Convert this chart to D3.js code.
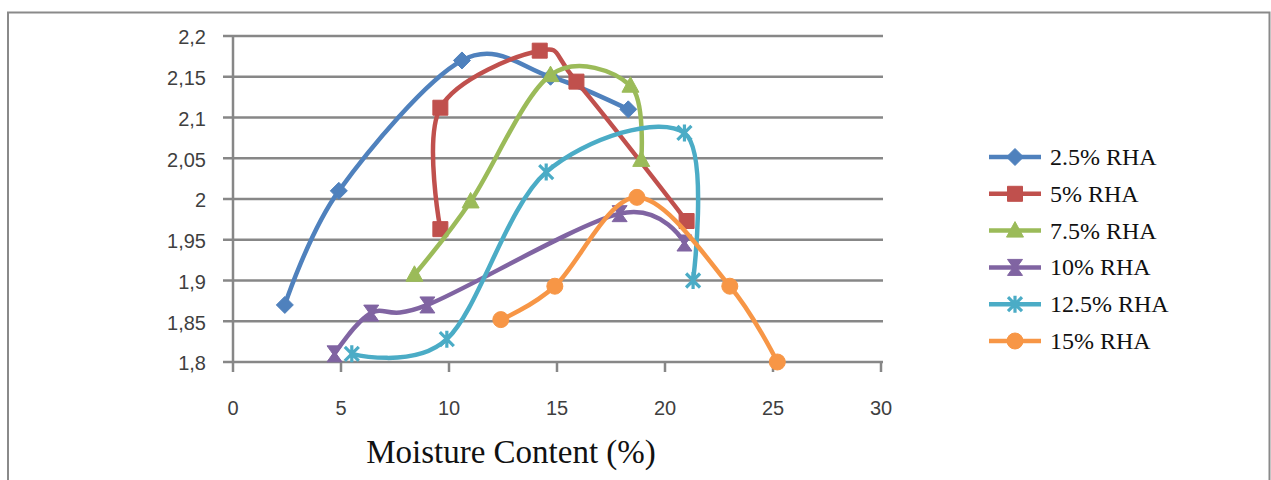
<!DOCTYPE html>
<html>
<head>
<meta charset="utf-8">
<script src="https://cdn.jsdelivr.net/npm/d3@7"></script>
<style>
  html, body { margin: 0; padding: 0; background: #fff; }
  #chart { width: 1271px; height: 480px; }
</style>
</head>
<body>
<div id="chart"></div>
<script>
// series names (legend order)
const seriesNames = ['2.5% RHA', '5% RHA', '7.5% RHA', '10% RHA', '12.5% RHA', '15% RHA'];

// moisture content (%) and dry density per series
const mc25 = [2.4, 4.9, 10.6, 14.7, 18.3];
const dd25 = [1.87, 2.01, 2.17, 2.15, 2.11];
const mc5 = [9.6, 9.6, 14.2, 15.9, 21.0];
const dd5 = [1.963, 2.112, 2.182, 2.144, 1.973];
const mc75 = [8.4, 11.0, 14.7, 18.4, 18.9];
const dd75 = [1.907, 1.997, 2.152, 2.139, 2.048];
const mc10 = [4.7, 6.4, 9.0, 17.9, 20.9];
const dd10 = [1.81, 1.86, 1.87, 1.982, 1.946];
const mc125 = [5.5, 9.9, 14.5, 20.9, 21.3];
const dd125 = [1.81, 1.828, 2.033, 2.081, 1.90];
const mc15 = [12.4, 14.9, 18.7, 23.0, 25.2];
const dd15 = [1.852, 1.893, 2.002, 1.893, 1.80];

const xTicks = [0, 5, 10, 15, 20, 25, 30];
const yTicks = [1.8, 1.85, 1.9, 1.95, 2, 2.05, 2.1, 2.15, 2.2];

const colors = ['#4F81BD', '#C0504D', '#9BBB59', '#8064A2', '#4BACC6', '#F79646'];
const markers = ['diamond', 'square', 'triangle', 'hourglass', 'star', 'circle'];

const series = [
  [mc25, dd25], [mc5, dd5], [mc75, dd75], [mc10, dd10], [mc125, dd125], [mc15, dd15]
].map((s, i) => ({
  name: seriesNames[i],
  color: colors[i],
  marker: markers[i],
  points: s[0].map((x, j) => ({ x, y: s[1][j] }))
}));

const width = 1271, height = 480;
const svg = d3.select('#chart').append('svg').attr('width', width).attr('height', height);

// outer frame (left, top, right edges show in the crop)
svg.append('path')
  .attr('d', 'M8,480V12.5H1269.5V480')
  .attr('fill', 'none').attr('stroke', '#8a8a8a').attr('stroke-width', 2);

const x = d3.scaleLinear().domain([0, 30]).range([233, 881]);
const y = d3.scaleLinear().domain([1.8, 2.2]).range([362, 36]);

const fmt = v => String(+v.toFixed(2)).replace('.', ',');

// horizontal gridlines
svg.append('g').selectAll('line').data(yTicks).enter().append('line')
  .attr('x1', 223).attr('x2', 883)
  .attr('y1', d => y(d)).attr('y2', d => y(d))
  .attr('stroke', '#878787').attr('stroke-width', 2.5);

// y axis line
svg.append('line').attr('x1', x(0)).attr('x2', x(0)).attr('y1', y(2.2) - 1).attr('y2', y(1.8) + 1)
  .attr('stroke', '#878787').attr('stroke-width', 2.5);

// x axis ticks
svg.append('g').selectAll('line').data(xTicks).enter().append('line')
  .attr('x1', d => x(d)).attr('x2', d => x(d))
  .attr('y1', y(1.8)).attr('y2', y(1.8) + 10)
  .attr('stroke', '#878787').attr('stroke-width', 2.5);

// tick labels
svg.append('g').selectAll('text').data(yTicks).enter().append('text')
  .attr('x', 206).attr('y', d => y(d) + 3)
  .attr('text-anchor', 'end').attr('dominant-baseline', 'middle')
  .attr('font-family', 'Liberation Sans, Arial, sans-serif').attr('font-size', 20)
  .attr('fill', '#3f3f3f')
  .text(fmt);

svg.append('g').selectAll('text').data(xTicks).enter().append('text')
  .attr('x', d => x(d)).attr('y', 415)
  .attr('text-anchor', 'middle')
  .attr('font-family', 'Liberation Sans, Arial, sans-serif').attr('font-size', 20)
  .attr('fill', '#3f3f3f')
  .text(d => d);

// axis title
svg.append('text').attr('x', 511).attr('y', 463)
  .attr('text-anchor', 'middle')
  .attr('font-family', 'Liberation Serif, Times New Roman, serif').attr('font-size', 33)
  .attr('fill', '#111')
  .text('Moisture Content (%)');

const markerPath = {
  diamond: 'M0,-8.5L8.5,0L0,8.5L-8.5,0Z',
  square: 'M-7.5,-7.5H7.5V7.5H-7.5Z',
  triangle: 'M0,-9L8.5,6.5H-8.5Z',
  hourglass: 'M-7.5,-8H7.5L1.8,0L7.5,8H-7.5L-1.8,0Z',
  star: 'M-7,-7L7,7M-7,7L7,-7M0,-8.5V8.5',
  circle: 'M8,0A8,8 0 1,1 -8,0A8,8 0 1,1 8,0Z'
};

function drawMarker(g, s, px, py) {
  const p = g.append('path')
    .attr('transform', `translate(${px},${py})`)
    .attr('d', markerPath[s.marker]);
  if (s.marker === 'star') {
    p.attr('fill', 'none').attr('stroke', s.color).attr('stroke-width', 3.2);
  } else {
    p.attr('fill', s.color).attr('stroke', s.color).attr('stroke-width', 1);
  }
}

const line = d3.line().x(d => x(d.x)).y(d => y(d.y)).curve(d3.curveCardinal.tension(0));

series.forEach(s => {
  const g = svg.append('g');
  g.append('path').datum(s.points)
    .attr('d', line)
    .attr('fill', 'none').attr('stroke', s.color).attr('stroke-width', 4.5)
    .attr('stroke-linejoin', 'round').attr('stroke-linecap', 'round');
  s.points.forEach(p => drawMarker(g, s, x(p.x), y(p.y)));
});

// legend
const ly = d3.scalePoint().domain(seriesNames).range([157, 341]);
const legend = svg.append('g');
series.forEach(s => {
  const cy = ly(s.name);
  legend.append('line').attr('x1', 989).attr('x2', 1041).attr('y1', cy).attr('y2', cy)
    .attr('stroke', s.color).attr('stroke-width', 4.5);
  drawMarker(legend, s, 1015, cy);
  legend.append('text').attr('x', 1050).attr('y', cy)
    .attr('dominant-baseline', 'central')
    .attr('font-family', 'Liberation Serif, Times New Roman, serif').attr('font-size', 24)
    .attr('fill', '#111')
    .text(s.name);
});
</script>
</body>
</html>
